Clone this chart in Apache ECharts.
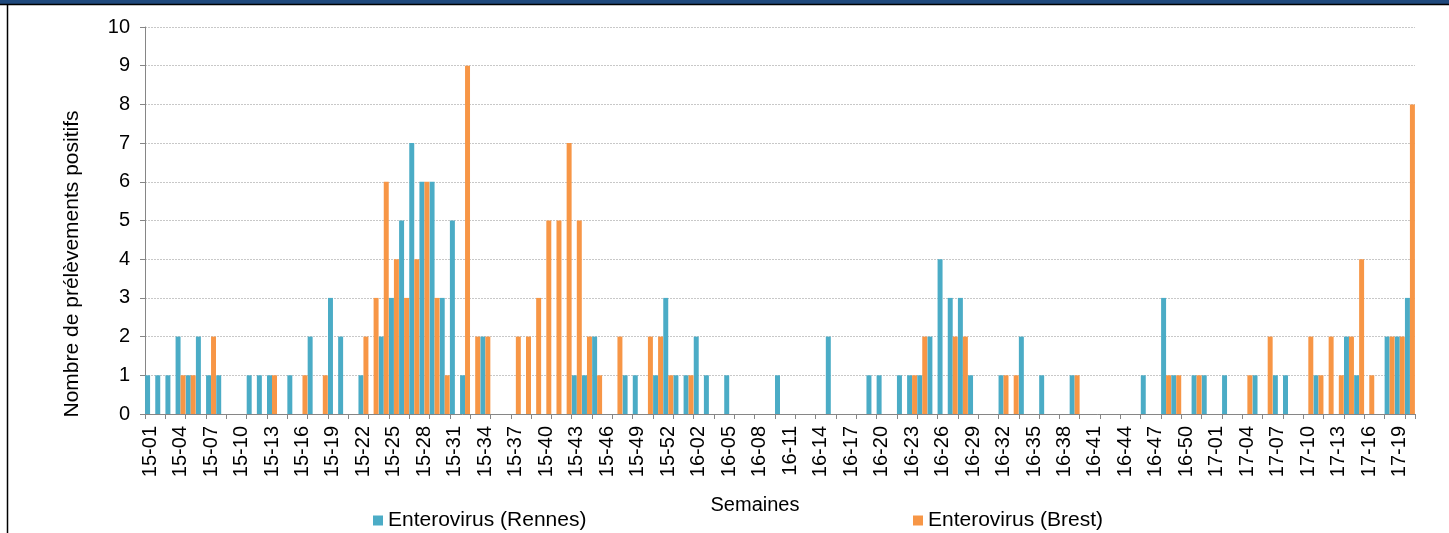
<!DOCTYPE html>
<html>
<head>
<meta charset="utf-8">
<script src="https://cdn.jsdelivr.net/npm/echarts@6/dist/echarts.min.js"></script>
<style>
html,body{margin:0;padding:0;background:#fff;}
#c{width:1449px;height:533px;}
</style>
</head>
<body>
<div id="c"></div>
<script>
// Week labels: 2015 (53 weeks), 2016 (52 weeks), 2017 (weeks 1-20)
const years = ['15', '16', '17'];
const weeksPerYear = [53, 52, 20];
const weeks = [];
years.forEach((y, k) => {
  for (let w = 1; w <= weeksPerYear[k]; w++) weeks.push(y + '-' + (w < 10 ? '0' + w : '' + w));
});

// Enterovirus (Rennes)
const rennes = [
  1,1,1,2,1,2,1,1,0,0, 1,1,1,0,1,0,2,0,3,2,
  0,1,0,2,3,5,7,6,6,3, 5,1,0,2,0,0,0,0,0,0,
  0,0,1,1,2,0,0,1,1,0, 1,3,1,1,2,1,0,1,0,0,
  0,0,1,0,0,0,0,2,0,0, 0,1,1,0,1,1,1,2,4,3,
  3,1,0,0,1,0,2,0,1,0, 0,1,0,0,0,0,0,0,1,0,
  3,1,0,1,1,0,1,0,0,1, 0,1,1,0,0,1,0,0,2,1,
  0,0,2,2,3
];
// Enterovirus (Brest)
const brest = [
  0,0,0,1,1,0,2,0,0,0, 0,0,1,0,0,1,0,1,0,0,
  0,2,3,6,4,3,4,6,3,1, 0,9,2,2,0,0,2,2,3,5,
  5,7,5,2,1,0,2,0,0,2, 2,1,0,1,0,0,0,0,0,0,
  0,0,0,0,0,0,0,0,0,0, 0,0,0,0,0,1,2,0,0,2,
  2,0,0,0,1,1,0,0,0,0, 0,1,0,0,0,0,0,0,0,0,
  1,1,0,1,0,0,0,0,1,0, 2,0,0,0,2,1,2,1,2,4,
  1,0,2,2,8
];
const yTicks = [0, 10, 1]; // min, max, interval

const FONT = '"Liberation Sans", Arial, sans-serif';
const chart = echarts.init(document.getElementById('c'), null, {renderer: 'canvas'});
chart.setOption({
  animation: false,
  backgroundColor: '#ffffff',
  textStyle: {fontFamily: FONT},
  grid: {left: 145, right: 34, top: 27, bottom: 119, containLabel: false},
  legend: [
    {data: ['Enterovirus (Rennes)'], left: 368, top: 505, icon: 'rect', itemWidth: 10, itemHeight: 10, itemGap: 0,
     textStyle: {fontFamily: FONT, fontSize: 21, color: '#000'}},
    {data: ['Enterovirus (Brest)'], left: 908, top: 505, icon: 'rect', itemWidth: 10, itemHeight: 10, itemGap: 0,
     textStyle: {fontFamily: FONT, fontSize: 21, color: '#000'}}
  ],
  xAxis: {
    type: 'category',
    data: weeks,
    boundaryGap: true,
    axisLine: {show: true, lineStyle: {color: '#868686', width: 1}},
    axisTick: {show: true, interval: 1, length: 5, alignWithLabel: false, lineStyle: {color: '#868686'}},
    axisLabel: {interval: 2, rotate: 90, fontSize: 20, color: '#000', margin: 12, fontFamily: FONT},
    splitLine: {show: false}
  },
  yAxis: {
    type: 'value',
    min: yTicks[0], max: yTicks[1], interval: yTicks[2],
    axisLine: {show: true, lineStyle: {color: '#868686', width: 1}},
    axisTick: {show: true, length: 5, lineStyle: {color: '#868686'}},
    axisLabel: {fontSize: 20, color: '#000', margin: 15, fontFamily: FONT},
    splitLine: {show: true, lineStyle: {color: '#c8c8c8', type: [2, 1], width: 1}}
  },
  series: [
    {name: 'Enterovirus (Rennes)', type: 'bar', data: rennes, barGap: '0%', barCategoryGap: '2%',
     itemStyle: {color: '#4BACC6'}},
    {name: 'Enterovirus (Brest)', type: 'bar', data: brest, barGap: '0%', barCategoryGap: '2%',
     itemStyle: {color: '#F79646'}}
  ],
  graphic: [
    {type: 'rect', left: 0, top: 0, shape: {width: 1449, height: 4}, style: {fill: '#1F497D'}, silent: true},
    {type: 'line', shape: {x1: 0, y1: 4.5, x2: 1449, y2: 4.5}, style: {stroke: '#000', lineWidth: 1.5}, silent: true},
    {type: 'line', shape: {x1: 7.5, y1: 4, x2: 7.5, y2: 533}, style: {stroke: '#000', lineWidth: 1.5}, silent: true},
    {type: 'text', x: 72, y: 264, rotation: Math.PI / 2,
     style: {text: 'Nombre de prélèvements positifs', fontFamily: FONT, fontSize: 21, fill: '#000', align: 'center', verticalAlign: 'middle'}},
    {type: 'text', x: 755, y: 505,
     style: {text: 'Semaines', fontFamily: FONT, fontSize: 20, fill: '#000', align: 'center', verticalAlign: 'middle'}}
  ]
});
</script>
</body>
</html>
